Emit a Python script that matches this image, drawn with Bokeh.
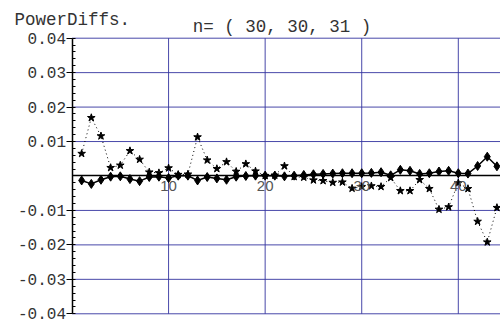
from bokeh.plotting import figure
from bokeh.models import Range1d, FixedTicker, PrintfTickFormatter, Label, ColumnDataSource
from bokeh.embed import file_html
from bokeh.resources import INLINE

# ---- data ----
xs = list(range(1, 45))
stars = [0.0065, 0.0169, 0.0116, 0.0024, 0.0031, 0.0073, 0.0048, 0.0011, 0.0009, 0.0023,
         0.0004, 0.0005, 0.0113, 0.0046, 0.0021, 0.0041, 0.0013, 0.0035, 0.0014, 0.0001,
         0.0002, 0.0029, -0.0002, -0.0004, -0.0012, -0.0014, -0.0019, -0.0018, -0.0036, -0.0031,
         -0.0029, -0.0031, -0.0005, -0.0043, -0.0043, -0.0011, -0.0037, -0.0097, -0.0090, -0.0020,
         -0.0037, -0.0132, -0.0192, -0.0092]
diamonds = [-0.0013, -0.0023, -0.0011, -0.0002, -0.0001, -0.0009, -0.0015, -0.0003, -0.0002, -0.0006,
            0.0001, 0.0001, -0.0013, -0.0003, -0.0007, -0.0011, -0.0002, 0.0000, 0.0001, 0.0001,
            0.0001, -0.0001, 0.0001, 0.0003, 0.0005, 0.0006, 0.0007, 0.0008, 0.0008, 0.0008,
            0.0009, 0.0011, 0.0002, 0.0018, 0.0015, 0.0006, 0.0008, 0.0013, 0.0015, 0.0008,
            0.0007, 0.0029, 0.0056, 0.0028]
x_ticks = [10, 20, 30, 40]
y_ticks = [-0.04, -0.03, -0.02, -0.01, 0.01, 0.02, 0.03, 0.04]
y_minor = [round(-0.04 + 0.002 * i, 3) for i in range(41)]
y_lo, y_hi = -0.04, 0.04
x_lo, x_hi = 0, 44.37
title_text = "PowerDiffs."
subtitle_text = "n= ( 30, 30, 31 )"

GRID = "#3434a0"
MONO = "Liberation Mono"

# frame covers the whole canvas; axes are placed at fixed locations inside it
p = figure(width=500, height=324, output_backend="svg", toolbar_location=None,
           x_range=Range1d(-7.404, 44.37), y_range=Range1d(-0.04311, 0.05094),
           min_border=0)
p.outline_line_color = None
p.background_fill_color = "white"
p.border_fill_color = "white"
p.grid.visible = False

# grid lines (bounded to the plot area)
hsrc = ColumnDataSource(dict(x0=[x_lo] * len(y_ticks), x1=[x_hi] * len(y_ticks), y=y_ticks))
vsrc = ColumnDataSource(dict(x=x_ticks, y0=[y_lo] * len(x_ticks), y1=[y_hi] * len(x_ticks)))
p.segment(x0="x0", y0="y", x1="x1", y1="y", source=hsrc, line_color=GRID, line_width=1, line_alpha=0.9)
p.segment(x0="x", y0="y0", x1="x", y1="y1", source=vsrc, line_color=GRID, line_width=1, line_alpha=0.9)

# y axis at x = 0
ya = p.yaxis[0]
ya.fixed_location = 0
ya.bounds = (y_lo, y_hi)
ya.ticker = FixedTicker(ticks=y_ticks, minor_ticks=y_minor)
ya.formatter = PrintfTickFormatter(format="%.2f")
ya.axis_line_color = "black"
ya.axis_line_width = 1.5
ya.major_tick_line_color = "black"
ya.major_tick_out = 6
ya.major_tick_in = 0
ya.minor_tick_line_color = "black"
ya.minor_tick_out = 0
ya.minor_tick_in = 3
ya.major_label_standoff = 0
ya.major_label_text_font = MONO
ya.major_label_text_font_size = "16px"
ya.major_label_text_color = "#333333"

# x axis at y = 0
xa = p.xaxis[0]
xa.fixed_location = 0
xa.bounds = (x_lo, x_hi)
xa.ticker = FixedTicker(ticks=x_ticks)
xa.axis_line_color = "black"
xa.axis_line_width = 1.5
xa.major_tick_line_color = "black"
xa.major_tick_out = 2
xa.major_tick_in = 0
xa.minor_tick_line_color = None
xa.major_label_standoff = 3
xa.major_label_text_font = "Liberation Sans"
xa.major_label_text_font_size = "15px"
xa.major_label_text_color = "#555555"

src = ColumnDataSource(dict(x=xs, s=stars, d=diamonds))

# star series (dotted)
p.line("x", "s", source=src, line_color="black", line_width=1, line_dash="1 3")
p.scatter("x", "s", source=src, marker="star", size=8, fill_color="black", line_color="black")

# diamond series (solid)
p.line("x", "d", source=src, line_color="black", line_width=1.5)
p.scatter("x", "d", source=src, marker="diamond", size=9, fill_color="black", line_color="black")

# titles
p.add_layout(Label(x=-5.96, y=0.04524, text=title_text, text_font=MONO,
                   text_font_size="17.5px", text_color="#333333", text_baseline="alphabetic"))
p.add_layout(Label(x=12.5, y=0.04320, text=subtitle_text, text_font=MONO,
                   text_font_size="17.5px", text_color="#333333", text_baseline="alphabetic"))

open("out.html", "w").write(file_html(p, INLINE))
